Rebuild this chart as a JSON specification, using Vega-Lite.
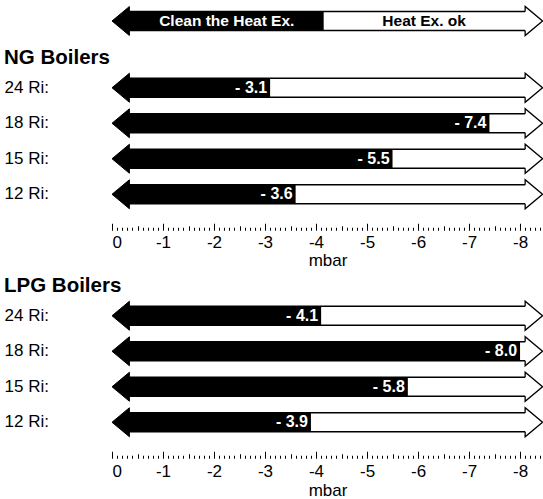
{
  "$schema": "https://vega.github.io/schema/vega-lite/v6.json",
  "padding": {"left": 4, "top": 3, "right": 0, "bottom": 0},
  "background": "white",
  "config": {
    "view": {"stroke": null},
    "font": "Liberation Sans",
    "axis": {"labelFont": "Liberation Sans", "titleFont": "Liberation Sans", "labelColor": "black", "titleColor": "black", "tickColor": "black"}
  },
  "datasets": {
    "legend": [{"row": "legend", "split": -4.15, "left": "Clean the Heat Ex.", "right": "Heat Ex. ok"}],
    "ng": [
      {"row": "24 Ri", "value": -3.1, "label": "- 3.1"},
      {"row": "18 Ri", "value": -7.4, "label": "- 7.4"},
      {"row": "15 Ri", "value": -5.5, "label": "- 5.5"},
      {"row": "12 Ri", "value": -3.6, "label": "- 3.6"}
    ],
    "lpg": [
      {"row": "24 Ri", "value": -4.1, "label": "- 4.1"},
      {"row": "18 Ri", "value": -8.0, "label": "- 8.0"},
      {"row": "15 Ri", "value": -5.8, "label": "- 5.8"},
      {"row": "12 Ri", "value": -3.9, "label": "- 3.9"}
    ]
  },
  "spacing": 6,
  "vconcat": [
    {
      "data": {"name": "legend"},
      "width": 431,
      "height": 35,
      "encoding": {
        "y": {"field": "row", "type": "nominal", "scale": {"paddingInner": 0, "paddingOuter": 0.0833, "align": 0}, "axis": null}
      },
      "layer": [
        {"mark": {"type": "bar", "fill": "white", "stroke": "black", "strokeWidth": 1.3, "size": 19},
         "encoding": {"x": {"datum": -0.3, "type": "quantitative", "scale": {"domain": [0, -8.45], "nice": false, "zero": false}, "axis": null}, "x2": {"datum": -8.15}}},
        {"mark": {"type": "bar", "fill": "black", "size": 19},
         "encoding": {"x": {"field": "split", "type": "quantitative", "scale": {"domain": [0, -8.45], "nice": false, "zero": false}, "axis": null}, "x2": {"datum": -0.3}}},
        {"mark": {"type": "point", "shape": "M 0 0 L 1.2 -1 L 1.2 1 Z", "size": 841, "filled": true, "fill": "black", "stroke": "black", "strokeWidth": 1, "opacity": 1},
         "encoding": {"x": {"datum": 0, "type": "quantitative", "scale": {"domain": [0, -8.45], "nice": false, "zero": false}, "axis": null}}},
        {"mark": {"type": "point", "shape": "M 0 -0.655 L 0 -1 L 1.2 0 L 0 1 L 0 0.655", "size": 841, "filled": true, "fill": "white", "stroke": "black", "strokeWidth": 1.3, "opacity": 1},
         "encoding": {"x": {"datum": -8.1, "type": "quantitative", "scale": {"domain": [0, -8.45], "nice": false, "zero": false}, "axis": null}}},
        {"mark": {"type": "text", "color": "white", "fontWeight": "bold", "fontSize": 15.5, "align": "center", "baseline": "middle"},
         "encoding": {"x": {"datum": -2.25, "type": "quantitative", "scale": {"domain": [0, -8.45], "nice": false, "zero": false}, "axis": null}, "text": {"field": "left"}}},
        {"mark": {"type": "text", "color": "black", "fontWeight": "bold", "fontSize": 15.5, "align": "center", "baseline": "middle"},
         "encoding": {"x": {"datum": -6.12, "type": "quantitative", "scale": {"domain": [0, -8.45], "nice": false, "zero": false}, "axis": null}, "text": {"field": "right"}}}
      ]
    },
    {
      "data": {"name": "ng"},
      "title": {"text": "NG Boilers", "anchor": "start", "fontSize": 20.5, "fontWeight": "bold", "font": "Liberation Sans", "color": "black", "offset": 2},
      "width": 431,
      "height": 142,
      "encoding": {
        "y": {"field": "row", "type": "nominal", "sort": null, "scale": {"paddingInner": 0, "paddingOuter": 0},
              "axis": {"title": null, "domain": false, "ticks": false, "labelAlign": "left", "labelPadding": 108, "labelFontSize": 17, "labelExpr": "datum.label + ':'"}}
      },
      "layer": [
        {"mark": {"type": "bar", "fill": "white", "stroke": "black", "strokeWidth": 1.3, "size": 19},
         "encoding": {"x": {"datum": -0.3, "type": "quantitative", "scale": {"domain": [0, -8.45], "nice": false, "zero": false},
                            "axis": {"orient": "bottom", "title": "mbar", "values": [0, -1, -2, -3, -4, -5, -6, -7, -8], "format": "d", "labelExpr": "replace(datum.label, '\u2212', '-')", "domain": false, "ticks": false, "tickSize": 0, "labelPadding": 22, "labelFontSize": 17, "titleFontSize": 17, "titleFontWeight": "normal", "titleY": 48.5, "titleBaseline": "middle", "grid": false}},
                      "x2": {"datum": -8.15}}},
        {"mark": {"type": "bar", "fill": "black", "size": 19},
         "encoding": {"x": {"field": "value", "type": "quantitative", "scale": {"domain": [0, -8.45], "nice": false, "zero": false},
                            "axis": {"orient": "top", "offset": -160.25, "title": null, "labels": false, "domain": false, "grid": false, "values": [0, -1, -2, -3, -4, -5, -6, -7, -8], "tickSize": 7, "tickWidth": 1}},
                      "x2": {"datum": -0.3}}},
        {"mark": {"type": "point", "shape": "M 0 0 L 1.2 -1 L 1.2 1 Z", "size": 841, "filled": true, "fill": "black", "stroke": "black", "strokeWidth": 1, "opacity": 1},
         "encoding": {"x": {"datum": 0, "type": "quantitative", "scale": {"domain": [0, -8.45], "nice": false, "zero": false},
                            "axis": {"orient": "top", "offset": -160.25, "title": null, "labels": false, "domain": false, "grid": false, "values": [-0.5, -1.5, -2.5, -3.5, -4.5, -5.5, -6.5, -7.5], "tickSize": 4.5, "tickWidth": 1}}}},
        {"mark": {"type": "point", "shape": "M 0 -0.655 L 0 -1 L 1.2 0 L 0 1 L 0 0.655", "size": 841, "filled": true, "fill": "white", "stroke": "black", "strokeWidth": 1.3, "opacity": 1},
         "encoding": {"x": {"datum": -8.1, "type": "quantitative", "scale": {"domain": [0, -8.45], "nice": false, "zero": false},
                            "axis": {"orient": "top", "offset": -160.25, "title": null, "labels": false, "domain": false, "grid": false, "values": [-0.1, -0.2, -0.3, -0.4, -0.6, -0.7, -0.8, -0.9, -1.1, -1.2, -1.3, -1.4, -1.6, -1.7, -1.8, -1.9, -2.1, -2.2, -2.3, -2.4, -2.6, -2.7, -2.8, -2.9, -3.1, -3.2, -3.3, -3.4, -3.6, -3.7, -3.8, -3.9, -4.1, -4.2, -4.3, -4.4, -4.6, -4.7, -4.8, -4.9, -5.1, -5.2, -5.3, -5.4, -5.6, -5.7, -5.8, -5.9, -6.1, -6.2, -6.3, -6.4, -6.6, -6.7, -6.8, -6.9, -7.1, -7.2, -7.3, -7.4, -7.6, -7.7, -7.8, -7.9, -8.1, -8.2, -8.3, -8.4], "tickSize": 3, "tickWidth": 1}}}},
        {"mark": {"type": "text", "color": "white", "fontWeight": "bold", "fontSize": 16, "align": "right", "baseline": "middle", "dx": -3},
         "encoding": {"x": {"field": "value", "type": "quantitative", "scale": {"domain": [0, -8.45], "nice": false, "zero": false}, "axis": null}, "text": {"field": "label"}}}
      ],
      "resolve": {"axis": {"x": "independent"}}
    },
    {
      "data": {"name": "lpg"},
      "title": {"text": "LPG Boilers", "anchor": "start", "fontSize": 20.5, "fontWeight": "bold", "font": "Liberation Sans", "color": "black", "offset": 2},
      "width": 431,
      "height": 142,
      "encoding": {
        "y": {"field": "row", "type": "nominal", "sort": null, "scale": {"paddingInner": 0, "paddingOuter": 0},
              "axis": {"title": null, "domain": false, "ticks": false, "labelAlign": "left", "labelPadding": 108, "labelFontSize": 17, "labelExpr": "datum.label + ':'"}}
      },
      "layer": [
        {"mark": {"type": "bar", "fill": "white", "stroke": "black", "strokeWidth": 1.3, "size": 19},
         "encoding": {"x": {"datum": -0.3, "type": "quantitative", "scale": {"domain": [0, -8.45], "nice": false, "zero": false},
                            "axis": {"orient": "bottom", "title": "mbar", "values": [0, -1, -2, -3, -4, -5, -6, -7, -8], "format": "d", "labelExpr": "replace(datum.label, '\u2212', '-')", "domain": false, "ticks": false, "tickSize": 0, "labelPadding": 23, "labelFontSize": 17, "titleFontSize": 17, "titleFontWeight": "normal", "titleY": 50, "titleBaseline": "middle", "grid": false}},
                      "x2": {"datum": -8.15}}},
        {"mark": {"type": "bar", "fill": "black", "size": 19},
         "encoding": {"x": {"field": "value", "type": "quantitative", "scale": {"domain": [0, -8.45], "nice": false, "zero": false},
                            "axis": {"orient": "top", "offset": -160.25, "title": null, "labels": false, "domain": false, "grid": false, "values": [0, -1, -2, -3, -4, -5, -6, -7, -8], "tickSize": 7, "tickWidth": 1}},
                      "x2": {"datum": -0.3}}},
        {"mark": {"type": "point", "shape": "M 0 0 L 1.2 -1 L 1.2 1 Z", "size": 841, "filled": true, "fill": "black", "stroke": "black", "strokeWidth": 1, "opacity": 1},
         "encoding": {"x": {"datum": 0, "type": "quantitative", "scale": {"domain": [0, -8.45], "nice": false, "zero": false},
                            "axis": {"orient": "top", "offset": -160.25, "title": null, "labels": false, "domain": false, "grid": false, "values": [-0.5, -1.5, -2.5, -3.5, -4.5, -5.5, -6.5, -7.5], "tickSize": 4.5, "tickWidth": 1}}}},
        {"mark": {"type": "point", "shape": "M 0 -0.655 L 0 -1 L 1.2 0 L 0 1 L 0 0.655", "size": 841, "filled": true, "fill": "white", "stroke": "black", "strokeWidth": 1.3, "opacity": 1},
         "encoding": {"x": {"datum": -8.1, "type": "quantitative", "scale": {"domain": [0, -8.45], "nice": false, "zero": false},
                            "axis": {"orient": "top", "offset": -160.25, "title": null, "labels": false, "domain": false, "grid": false, "values": [-0.1, -0.2, -0.3, -0.4, -0.6, -0.7, -0.8, -0.9, -1.1, -1.2, -1.3, -1.4, -1.6, -1.7, -1.8, -1.9, -2.1, -2.2, -2.3, -2.4, -2.6, -2.7, -2.8, -2.9, -3.1, -3.2, -3.3, -3.4, -3.6, -3.7, -3.8, -3.9, -4.1, -4.2, -4.3, -4.4, -4.6, -4.7, -4.8, -4.9, -5.1, -5.2, -5.3, -5.4, -5.6, -5.7, -5.8, -5.9, -6.1, -6.2, -6.3, -6.4, -6.6, -6.7, -6.8, -6.9, -7.1, -7.2, -7.3, -7.4, -7.6, -7.7, -7.8, -7.9, -8.1, -8.2, -8.3, -8.4], "tickSize": 3, "tickWidth": 1}}}},
        {"mark": {"type": "text", "color": "white", "fontWeight": "bold", "fontSize": 16, "align": "right", "baseline": "middle", "dx": -3},
         "encoding": {"x": {"field": "value", "type": "quantitative", "scale": {"domain": [0, -8.45], "nice": false, "zero": false}, "axis": null}, "text": {"field": "label"}}}
      ],
      "resolve": {"axis": {"x": "independent"}}
    }
  ]
}
